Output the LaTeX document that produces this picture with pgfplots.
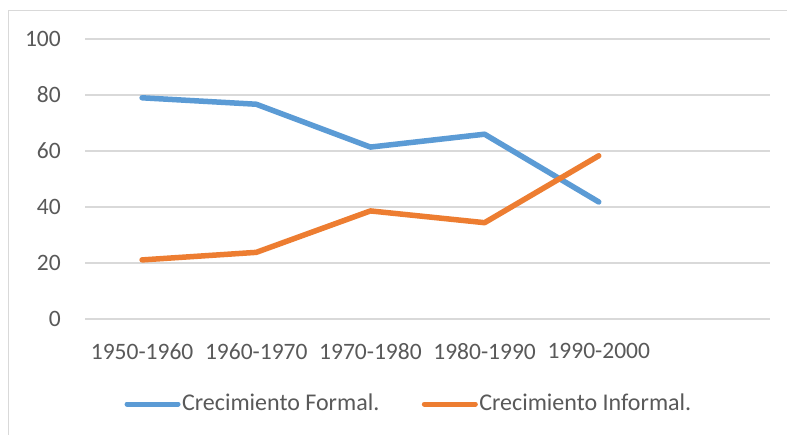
\documentclass[border=0pt]{standalone}
\usepackage{pgfplots}
\pgfplotsset{compat=1.18}
\usepackage{fontspec}
\setmainfont{Carlito}
\definecolor{sblue}{RGB}{91,155,213}
\definecolor{sorange}{RGB}{237,125,49}
\definecolor{gridc}{RGB}{217,217,217}
\definecolor{txtc}{RGB}{89,89,89}
\begin{document}
\fontsize{24bp}{28bp}\selectfont
\begin{tikzpicture}
\useasboundingbox (0,0) rectangle (787bp,435bp);
\fill[white] (0,0) rectangle (787bp,435bp);
\draw[gridc, line width=1.2bp] (8.5bp,-10bp) -- (8.5bp,424.5bp) -- (800bp,424.5bp);
\begin{axis}[
  at={(85bp,116bp)}, anchor=south west,
  scale only axis, width=685bp, height=280bp,
  xmin=-0.5, xmax=5.5, ymin=0, ymax=100,
  axis line style={draw=none},
  xtick={0,1,2,3,4},
  xticklabels={1950-1960,1960-1970,1970-1980,1980-1990,1990-2000},
  ytick={0,20,40,60,80,100},
  major tick length=0pt,
  ymajorgrids, grid style={gridc, line width=1.1bp},
  tick label style={font=\fontsize{23.5bp}{28bp}\selectfont, text=txtc},
  /pgf/number format/assume math mode=true,
  yticklabel style={xshift=-16bp},
  xticklabel style={yshift=-16bp},
  clip=false,
  legend style={draw=none, fill=none, at={(0.4725,-0.3036)}, anchor=center,
    font=\fontsize{24bp}{28bp}\selectfont, text=txtc,
    legend columns=2,
    /tikz/every even column/.append style={column sep=41bp},
    inner sep=0pt, nodes={inner sep=1.5bp}},
  legend image code/.code={\draw[#1, line width=5bp, line cap=round] (2.5bp,0bp) -- (53.5bp,0bp);},
]
\addplot[sblue, line width=5.5bp, line cap=round, line join=round] coordinates {
  (0,79.0) (1,76.7) (2,61.4) (3,66.0) (4,41.8)};
\addlegendentry{Crecimiento Formal.}
\addplot[sorange, line width=5.5bp, line cap=round, line join=round] coordinates {
  (0,21.1) (1,23.8) (2,38.6) (3,34.4) (4,58.3)};
\addlegendentry{Crecimiento Informal.}
\end{axis}
\end{tikzpicture}
\end{document}
